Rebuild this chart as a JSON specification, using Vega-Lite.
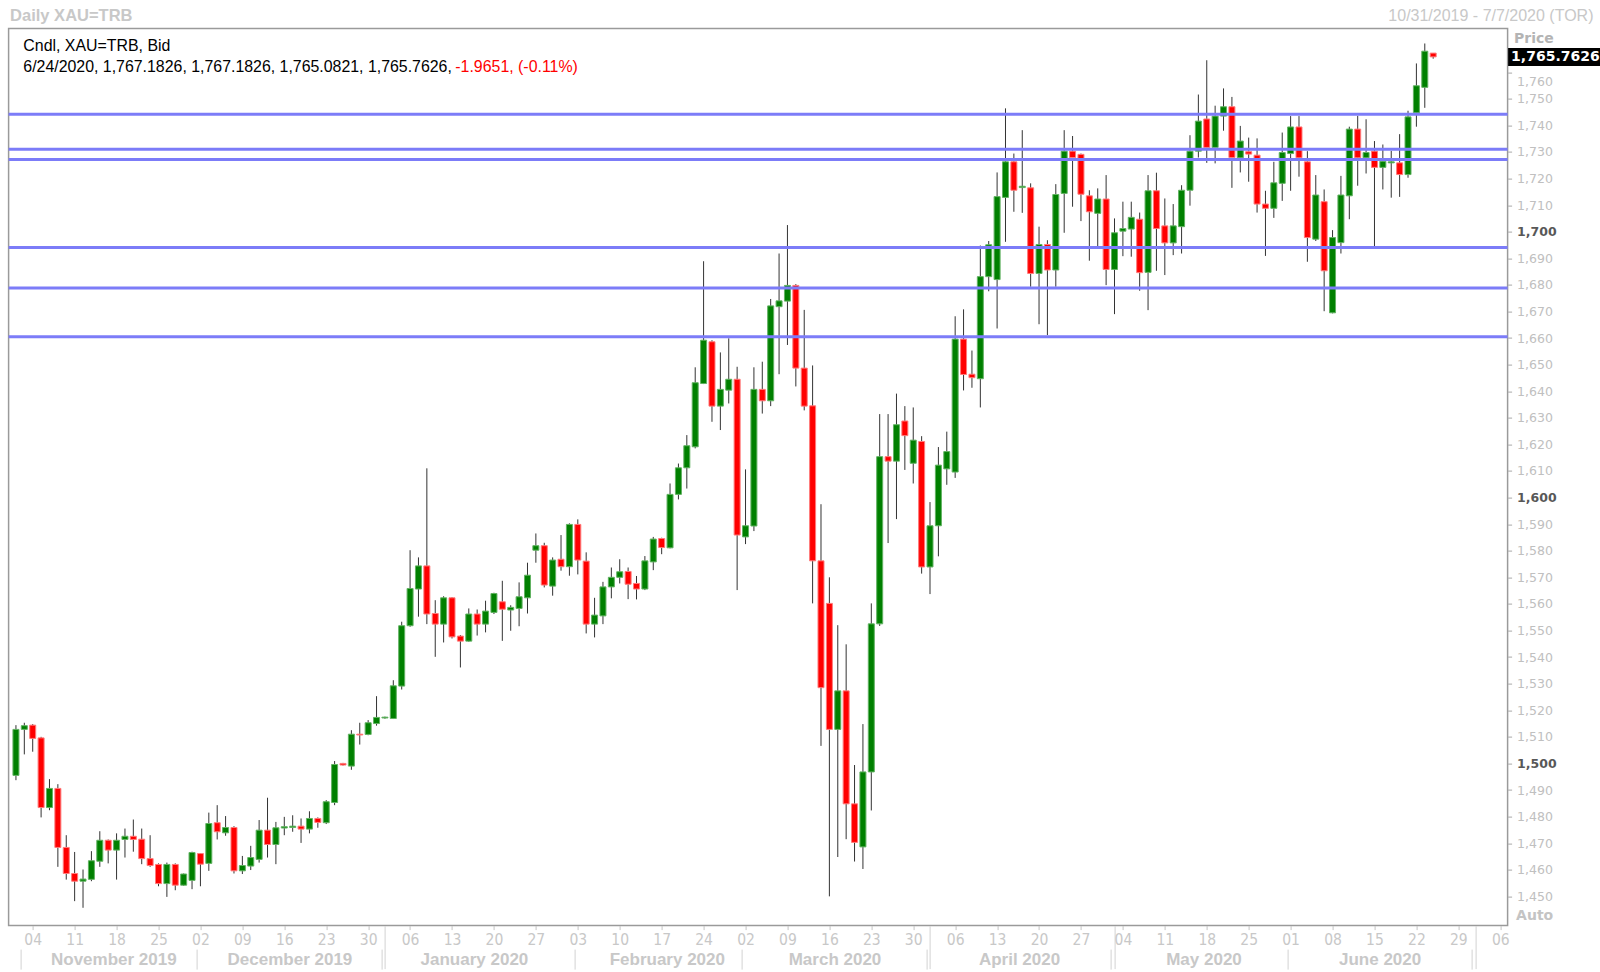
{
  "$schema": "https://vega.github.io/schema/vega-lite/v6.json",
  "width": 1499,
  "height": 897,
  "autosize": {"type": "none"},
  "padding": {"left": 8.6, "top": 28.6, "right": 92.4, "bottom": 46.4},
  "background": "white",
  "config": {"view": {"stroke": "#9a9a9a", "strokeWidth": 1.5}, "axis": {"grid": false}},
  "datasets": {
    "levels": [{"v": 1744.2}, {"v": 1731.0}, {"v": 1727.2}, {"v": 1694.1}, {"v": 1678.8}, {"v": 1660.5}],
    "ohlc": [
      {"d":"2019-10-31","o":1495.5,"h":1514.4,"l":1493.7,"c":1512.8},
      {"d":"2019-11-01","o":1512.8,"h":1515.3,"l":1503.4,"c":1514.2},
      {"d":"2019-11-04","o":1514.4,"h":1514.8,"l":1504.4,"c":1509.4},
      {"d":"2019-11-05","o":1509.6,"h":1510.0,"l":1479.7,"c":1483.4},
      {"d":"2019-11-06","o":1483.4,"h":1494.1,"l":1482.4,"c":1490.6},
      {"d":"2019-11-07","o":1490.6,"h":1492.2,"l":1461.1,"c":1468.4},
      {"d":"2019-11-08","o":1468.4,"h":1473.0,"l":1456.3,"c":1458.6},
      {"d":"2019-11-11","o":1458.6,"h":1466.7,"l":1448.2,"c":1455.7},
      {"d":"2019-11-12","o":1455.7,"h":1460.1,"l":1445.7,"c":1456.5},
      {"d":"2019-11-13","o":1456.4,"h":1467.0,"l":1455.7,"c":1463.4},
      {"d":"2019-11-14","o":1463.2,"h":1474.5,"l":1461.1,"c":1471.1},
      {"d":"2019-11-15","o":1471.1,"h":1471.4,"l":1462.4,"c":1467.4},
      {"d":"2019-11-18","o":1467.4,"h":1473.7,"l":1456.3,"c":1471.1},
      {"d":"2019-11-19","o":1471.4,"h":1475.5,"l":1464.6,"c":1472.6},
      {"d":"2019-11-20","o":1472.6,"h":1478.9,"l":1466.8,"c":1471.4},
      {"d":"2019-11-21","o":1471.5,"h":1475.5,"l":1462.1,"c":1464.2},
      {"d":"2019-11-22","o":1464.2,"h":1473.0,"l":1461.1,"c":1461.6},
      {"d":"2019-11-25","o":1462.0,"h":1462.4,"l":1453.8,"c":1454.8},
      {"d":"2019-11-26","o":1454.8,"h":1462.7,"l":1449.8,"c":1462.0},
      {"d":"2019-11-27","o":1462.0,"h":1462.4,"l":1452.3,"c":1454.2},
      {"d":"2019-11-28","o":1454.2,"h":1458.6,"l":1454.0,"c":1458.4},
      {"d":"2019-11-29","o":1456.0,"h":1466.8,"l":1452.7,"c":1466.5},
      {"d":"2019-12-02","o":1466.1,"h":1466.3,"l":1453.8,"c":1462.1},
      {"d":"2019-12-03","o":1462.4,"h":1481.5,"l":1459.6,"c":1477.4},
      {"d":"2019-12-04","o":1477.7,"h":1484.3,"l":1471.4,"c":1474.3},
      {"d":"2019-12-05","o":1473.9,"h":1480.2,"l":1472.8,"c":1475.9},
      {"d":"2019-12-06","o":1475.9,"h":1476.4,"l":1458.6,"c":1459.6},
      {"d":"2019-12-09","o":1459.6,"h":1465.2,"l":1458.4,"c":1461.6},
      {"d":"2019-12-10","o":1461.4,"h":1469.0,"l":1459.9,"c":1464.6},
      {"d":"2019-12-11","o":1463.9,"h":1478.7,"l":1462.7,"c":1474.9},
      {"d":"2019-12-12","o":1474.9,"h":1487.1,"l":1464.6,"c":1469.5},
      {"d":"2019-12-13","o":1469.5,"h":1478.0,"l":1462.1,"c":1475.8},
      {"d":"2019-12-16","o":1475.7,"h":1479.9,"l":1473.0,"c":1476.2},
      {"d":"2019-12-17","o":1475.9,"h":1480.5,"l":1474.3,"c":1476.4},
      {"d":"2019-12-18","o":1476.4,"h":1479.3,"l":1470.1,"c":1475.3},
      {"d":"2019-12-19","o":1475.3,"h":1482.0,"l":1473.7,"c":1479.3},
      {"d":"2019-12-20","o":1479.3,"h":1479.7,"l":1475.8,"c":1477.8},
      {"d":"2019-12-23","o":1477.7,"h":1486.2,"l":1477.2,"c":1485.6},
      {"d":"2019-12-24","o":1485.3,"h":1500.9,"l":1484.3,"c":1499.6},
      {"d":"2019-12-25","o":1500.0,"h":1500.2,"l":1499.2,"c":1499.4},
      {"d":"2019-12-26","o":1499.0,"h":1512.5,"l":1497.6,"c":1511.0},
      {"d":"2019-12-27","o":1511.0,"h":1515.3,"l":1507.1,"c":1510.7},
      {"d":"2019-12-30","o":1510.9,"h":1516.3,"l":1510.6,"c":1515.3},
      {"d":"2019-12-31","o":1515.0,"h":1525.3,"l":1514.2,"c":1517.3},
      {"d":"2020-01-01","o":1517.1,"h":1517.6,"l":1516.8,"c":1517.4},
      {"d":"2020-01-02","o":1516.9,"h":1531.3,"l":1516.7,"c":1529.2},
      {"d":"2020-01-03","o":1529.1,"h":1553.3,"l":1527.8,"c":1551.8},
      {"d":"2020-01-06","o":1551.8,"h":1580.2,"l":1551.4,"c":1565.8},
      {"d":"2020-01-07","o":1565.6,"h":1577.5,"l":1555.2,"c":1574.3},
      {"d":"2020-01-08","o":1574.3,"h":1611.0,"l":1552.4,"c":1556.2},
      {"d":"2020-01-09","o":1556.4,"h":1561.4,"l":1540.1,"c":1552.4},
      {"d":"2020-01-10","o":1552.4,"h":1562.9,"l":1545.5,"c":1562.3},
      {"d":"2020-01-13","o":1562.3,"h":1562.5,"l":1547.0,"c":1547.6},
      {"d":"2020-01-14","o":1547.9,"h":1548.3,"l":1536.1,"c":1546.0},
      {"d":"2020-01-15","o":1546.0,"h":1558.3,"l":1545.8,"c":1556.2},
      {"d":"2020-01-16","o":1556.2,"h":1557.9,"l":1548.1,"c":1552.4},
      {"d":"2020-01-17","o":1552.4,"h":1561.2,"l":1549.3,"c":1557.3},
      {"d":"2020-01-20","o":1556.8,"h":1564.2,"l":1556.2,"c":1563.9},
      {"d":"2020-01-21","o":1560.8,"h":1568.7,"l":1546.1,"c":1558.0},
      {"d":"2020-01-22","o":1557.7,"h":1559.5,"l":1549.9,"c":1558.7},
      {"d":"2020-01-23","o":1558.3,"h":1568.1,"l":1551.6,"c":1562.7},
      {"d":"2020-01-24","o":1562.3,"h":1575.5,"l":1556.4,"c":1570.8},
      {"d":"2020-01-27","o":1580.2,"h":1586.5,"l":1575.5,"c":1581.9},
      {"d":"2020-01-28","o":1581.9,"h":1583.0,"l":1566.2,"c":1567.1},
      {"d":"2020-01-29","o":1566.7,"h":1577.5,"l":1563.1,"c":1576.5},
      {"d":"2020-01-30","o":1576.8,"h":1585.9,"l":1572.5,"c":1574.0},
      {"d":"2020-01-31","o":1574.0,"h":1590.3,"l":1570.6,"c":1589.9},
      {"d":"2020-02-03","o":1589.9,"h":1591.8,"l":1571.1,"c":1576.5},
      {"d":"2020-02-04","o":1576.1,"h":1579.4,"l":1548.9,"c":1552.4},
      {"d":"2020-02-05","o":1552.4,"h":1562.3,"l":1547.4,"c":1555.8},
      {"d":"2020-02-06","o":1555.5,"h":1568.3,"l":1552.4,"c":1566.4},
      {"d":"2020-02-07","o":1566.4,"h":1573.7,"l":1562.1,"c":1570.0},
      {"d":"2020-02-10","o":1570.0,"h":1576.8,"l":1567.7,"c":1572.1},
      {"d":"2020-02-11","o":1572.2,"h":1573.7,"l":1561.8,"c":1567.4},
      {"d":"2020-02-12","o":1567.7,"h":1570.5,"l":1561.7,"c":1565.6},
      {"d":"2020-02-13","o":1565.6,"h":1578.0,"l":1565.2,"c":1576.2},
      {"d":"2020-02-14","o":1575.8,"h":1585.2,"l":1572.7,"c":1584.4},
      {"d":"2020-02-17","o":1584.6,"h":1584.9,"l":1578.7,"c":1581.2},
      {"d":"2020-02-18","o":1581.1,"h":1605.3,"l":1580.9,"c":1601.2},
      {"d":"2020-02-19","o":1601.2,"h":1612.8,"l":1599.3,"c":1611.2},
      {"d":"2020-02-20","o":1611.2,"h":1623.5,"l":1603.4,"c":1619.5},
      {"d":"2020-02-21","o":1619.1,"h":1649.0,"l":1618.5,"c":1643.2},
      {"d":"2020-02-24","o":1642.9,"h":1688.9,"l":1642.7,"c":1659.2},
      {"d":"2020-02-25","o":1658.6,"h":1659.2,"l":1628.5,"c":1634.4},
      {"d":"2020-02-26","o":1634.4,"h":1654.6,"l":1625.4,"c":1640.7},
      {"d":"2020-02-27","o":1640.4,"h":1659.9,"l":1635.4,"c":1644.5},
      {"d":"2020-02-28","o":1644.5,"h":1649.2,"l":1565.2,"c":1585.9},
      {"d":"2020-03-02","o":1585.2,"h":1610.6,"l":1582.5,"c":1589.4},
      {"d":"2020-03-03","o":1589.3,"h":1649.0,"l":1587.4,"c":1640.7},
      {"d":"2020-03-04","o":1640.7,"h":1651.1,"l":1631.6,"c":1636.4},
      {"d":"2020-03-05","o":1636.4,"h":1674.7,"l":1634.4,"c":1672.1},
      {"d":"2020-03-06","o":1671.8,"h":1691.8,"l":1646.4,"c":1674.0},
      {"d":"2020-03-09","o":1673.9,"h":1702.5,"l":1657.4,"c":1679.8},
      {"d":"2020-03-10","o":1679.8,"h":1680.3,"l":1641.8,"c":1648.7},
      {"d":"2020-03-11","o":1648.7,"h":1670.6,"l":1632.8,"c":1634.4},
      {"d":"2020-03-12","o":1634.5,"h":1649.7,"l":1560.2,"c":1576.2},
      {"d":"2020-03-13","o":1576.2,"h":1597.5,"l":1506.6,"c":1528.5},
      {"d":"2020-03-16","o":1560.2,"h":1570.0,"l":1450.0,"c":1512.8},
      {"d":"2020-03-17","o":1512.8,"h":1552.0,"l":1464.8,"c":1527.3},
      {"d":"2020-03-18","o":1527.3,"h":1544.8,"l":1471.5,"c":1484.8},
      {"d":"2020-03-19","o":1484.8,"h":1499.4,"l":1463.1,"c":1470.3},
      {"d":"2020-03-20","o":1468.6,"h":1514.8,"l":1460.3,"c":1496.8},
      {"d":"2020-03-23","o":1496.8,"h":1560.2,"l":1482.3,"c":1552.5},
      {"d":"2020-03-24","o":1552.5,"h":1631.4,"l":1551.7,"c":1615.4},
      {"d":"2020-03-25","o":1615.4,"h":1631.4,"l":1582.9,"c":1613.7},
      {"d":"2020-03-26","o":1613.7,"h":1639.1,"l":1591.9,"c":1627.4},
      {"d":"2020-03-27","o":1628.8,"h":1634.4,"l":1610.4,"c":1623.3},
      {"d":"2020-03-30","o":1612.9,"h":1633.9,"l":1605.3,"c":1621.6},
      {"d":"2020-03-31","o":1621.1,"h":1623.1,"l":1571.4,"c":1573.9},
      {"d":"2020-04-01","o":1573.9,"h":1598.3,"l":1563.7,"c":1589.4},
      {"d":"2020-04-02","o":1589.4,"h":1619.0,"l":1577.9,"c":1612.2},
      {"d":"2020-04-03","o":1610.8,"h":1624.8,"l":1604.8,"c":1617.3},
      {"d":"2020-04-06","o":1609.6,"h":1668.2,"l":1607.4,"c":1659.6},
      {"d":"2020-04-07","o":1659.6,"h":1670.8,"l":1640.3,"c":1646.3},
      {"d":"2020-04-08","o":1646.4,"h":1655.3,"l":1641.3,"c":1645.1},
      {"d":"2020-04-09","o":1644.7,"h":1694.8,"l":1633.9,"c":1683.1},
      {"d":"2020-04-10","o":1683.1,"h":1696.5,"l":1677.6,"c":1695.1},
      {"d":"2020-04-13","o":1682.0,"h":1722.3,"l":1663.6,"c":1713.2},
      {"d":"2020-04-14","o":1712.9,"h":1746.4,"l":1696.2,"c":1726.3},
      {"d":"2020-04-15","o":1726.3,"h":1729.4,"l":1707.5,"c":1715.6},
      {"d":"2020-04-16","o":1716.6,"h":1738.2,"l":1707.1,"c":1717.1},
      {"d":"2020-04-17","o":1716.5,"h":1718.2,"l":1679.3,"c":1684.3},
      {"d":"2020-04-20","o":1684.3,"h":1701.9,"l":1665.2,"c":1695.2},
      {"d":"2020-04-21","o":1695.2,"h":1696.8,"l":1661.1,"c":1685.6},
      {"d":"2020-04-22","o":1685.6,"h":1717.9,"l":1679.3,"c":1714.0},
      {"d":"2020-04-23","o":1714.4,"h":1738.2,"l":1699.6,"c":1730.3},
      {"d":"2020-04-24","o":1730.3,"h":1736.0,"l":1709.4,"c":1727.9},
      {"d":"2020-04-27","o":1729.1,"h":1729.4,"l":1704.0,"c":1714.1},
      {"d":"2020-04-28","o":1713.5,"h":1715.6,"l":1689.1,"c":1707.5},
      {"d":"2020-04-29","o":1706.9,"h":1716.3,"l":1694.6,"c":1712.3},
      {"d":"2020-04-30","o":1712.3,"h":1721.3,"l":1679.9,"c":1685.8},
      {"d":"2020-05-01","o":1685.8,"h":1705.0,"l":1669.0,"c":1699.6},
      {"d":"2020-05-04","o":1700.2,"h":1711.3,"l":1690.8,"c":1701.2},
      {"d":"2020-05-05","o":1701.0,"h":1711.3,"l":1690.6,"c":1705.4},
      {"d":"2020-05-06","o":1704.7,"h":1707.2,"l":1677.8,"c":1684.6},
      {"d":"2020-05-07","o":1684.7,"h":1721.3,"l":1670.5,"c":1715.4},
      {"d":"2020-05-08","o":1715.4,"h":1722.2,"l":1685.3,"c":1701.2},
      {"d":"2020-05-11","o":1702.2,"h":1712.5,"l":1683.7,"c":1695.8},
      {"d":"2020-05-12","o":1695.8,"h":1710.4,"l":1691.2,"c":1702.2},
      {"d":"2020-05-13","o":1701.9,"h":1717.5,"l":1691.8,"c":1715.6},
      {"d":"2020-05-14","o":1715.6,"h":1736.3,"l":1709.8,"c":1730.3},
      {"d":"2020-05-15","o":1730.3,"h":1751.6,"l":1727.9,"c":1741.6},
      {"d":"2020-05-18","o":1742.4,"h":1764.5,"l":1725.9,"c":1731.7},
      {"d":"2020-05-19","o":1731.7,"h":1747.4,"l":1725.7,"c":1743.5},
      {"d":"2020-05-20","o":1743.5,"h":1753.9,"l":1738.0,"c":1747.0},
      {"d":"2020-05-21","o":1747.0,"h":1750.7,"l":1716.5,"c":1727.9},
      {"d":"2020-05-22","o":1727.8,"h":1739.8,"l":1722.3,"c":1734.1},
      {"d":"2020-05-25","o":1730.1,"h":1735.4,"l":1718.8,"c":1729.2},
      {"d":"2020-05-26","o":1728.8,"h":1735.1,"l":1707.2,"c":1710.4},
      {"d":"2020-05-27","o":1710.4,"h":1715.4,"l":1690.9,"c":1708.8},
      {"d":"2020-05-28","o":1708.8,"h":1726.3,"l":1705.2,"c":1718.4},
      {"d":"2020-05-29","o":1718.2,"h":1737.3,"l":1711.6,"c":1729.8},
      {"d":"2020-06-01","o":1729.4,"h":1743.5,"l":1715.4,"c":1739.4},
      {"d":"2020-06-02","o":1739.4,"h":1743.5,"l":1720.7,"c":1727.8},
      {"d":"2020-06-03","o":1726.3,"h":1730.3,"l":1688.7,"c":1697.8},
      {"d":"2020-06-04","o":1697.2,"h":1721.3,"l":1696.5,"c":1713.8},
      {"d":"2020-06-05","o":1711.3,"h":1715.9,"l":1670.1,"c":1685.3},
      {"d":"2020-06-08","o":1669.5,"h":1700.6,"l":1669.3,"c":1697.8},
      {"d":"2020-06-09","o":1695.9,"h":1721.0,"l":1691.8,"c":1713.8},
      {"d":"2020-06-10","o":1713.5,"h":1739.5,"l":1704.7,"c":1738.6},
      {"d":"2020-06-11","o":1738.6,"h":1743.6,"l":1717.3,"c":1727.8},
      {"d":"2020-06-12","o":1727.8,"h":1742.3,"l":1721.9,"c":1729.8},
      {"d":"2020-06-15","o":1730.3,"h":1734.1,"l":1694.6,"c":1724.2},
      {"d":"2020-06-16","o":1724.2,"h":1732.8,"l":1715.9,"c":1726.5},
      {"d":"2020-06-17","o":1725.9,"h":1730.4,"l":1712.8,"c":1726.3},
      {"d":"2020-06-18","o":1725.9,"h":1736.7,"l":1713.1,"c":1721.5},
      {"d":"2020-06-19","o":1721.5,"h":1745.5,"l":1720.3,"c":1743.2},
      {"d":"2020-06-22","o":1744.7,"h":1763.3,"l":1739.5,"c":1754.9},
      {"d":"2020-06-23","o":1754.3,"h":1770.8,"l":1746.6,"c":1767.9},
      {"d":"2020-06-24","o":1767.1826,"h":1767.1826,"l":1765.0821,"c":1765.7626}
    ]
  },
  "resolve": {"axis": {"x": "independent", "y": "independent"}},
  "layer": [
    {
      "data": {"name": "ohlc"},
      "mark": {"type": "rule", "color": "#333333", "strokeWidth": 1},
      "encoding": {
        "x": {
          "field": "d", "type": "ordinal",
          "scale": {"type": "band", "paddingInner": 0, "paddingOuter": 0.375, "domain": [
            "2019-10-31","2019-11-01","2019-11-04","2019-11-05","2019-11-06","2019-11-07","2019-11-08","2019-11-11","2019-11-12","2019-11-13","2019-11-14","2019-11-15","2019-11-18","2019-11-19","2019-11-20","2019-11-21","2019-11-22","2019-11-25","2019-11-26","2019-11-27","2019-11-28","2019-11-29",
            "2019-12-02","2019-12-03","2019-12-04","2019-12-05","2019-12-06","2019-12-09","2019-12-10","2019-12-11","2019-12-12","2019-12-13","2019-12-16","2019-12-17","2019-12-18","2019-12-19","2019-12-20","2019-12-23","2019-12-24","2019-12-25","2019-12-26","2019-12-27","2019-12-30","2019-12-31",
            "2020-01-01","2020-01-02","2020-01-03","2020-01-06","2020-01-07","2020-01-08","2020-01-09","2020-01-10","2020-01-13","2020-01-14","2020-01-15","2020-01-16","2020-01-17","2020-01-20","2020-01-21","2020-01-22","2020-01-23","2020-01-24","2020-01-27","2020-01-28","2020-01-29","2020-01-30","2020-01-31",
            "2020-02-03","2020-02-04","2020-02-05","2020-02-06","2020-02-07","2020-02-10","2020-02-11","2020-02-12","2020-02-13","2020-02-14","2020-02-17","2020-02-18","2020-02-19","2020-02-20","2020-02-21","2020-02-24","2020-02-25","2020-02-26","2020-02-27","2020-02-28",
            "2020-03-02","2020-03-03","2020-03-04","2020-03-05","2020-03-06","2020-03-09","2020-03-10","2020-03-11","2020-03-12","2020-03-13","2020-03-16","2020-03-17","2020-03-18","2020-03-19","2020-03-20","2020-03-23","2020-03-24","2020-03-25","2020-03-26","2020-03-27","2020-03-30","2020-03-31",
            "2020-04-01","2020-04-02","2020-04-03","2020-04-06","2020-04-07","2020-04-08","2020-04-09","2020-04-10","2020-04-13","2020-04-14","2020-04-15","2020-04-16","2020-04-17","2020-04-20","2020-04-21","2020-04-22","2020-04-23","2020-04-24","2020-04-27","2020-04-28","2020-04-29","2020-04-30",
            "2020-05-01","2020-05-04","2020-05-05","2020-05-06","2020-05-07","2020-05-08","2020-05-11","2020-05-12","2020-05-13","2020-05-14","2020-05-15","2020-05-18","2020-05-19","2020-05-20","2020-05-21","2020-05-22","2020-05-25","2020-05-26","2020-05-27","2020-05-28","2020-05-29",
            "2020-06-01","2020-06-02","2020-06-03","2020-06-04","2020-06-05","2020-06-08","2020-06-09","2020-06-10","2020-06-11","2020-06-12","2020-06-15","2020-06-16","2020-06-17","2020-06-18","2020-06-19","2020-06-22","2020-06-23","2020-06-24","2020-06-25","2020-06-26","2020-06-29","2020-06-30",
            "2020-07-01","2020-07-02","2020-07-03","2020-07-06"
          ]},
          "axis": {
            "orient": "bottom", "title": null, "domain": false,
            "values": ["2019-11-04","2019-11-11","2019-11-18","2019-11-25","2019-12-02","2019-12-09","2019-12-16","2019-12-23","2019-12-30","2020-01-01","2020-01-06","2020-01-13","2020-01-20","2020-01-27","2020-02-03","2020-02-10","2020-02-17","2020-02-24","2020-03-02","2020-03-09","2020-03-16","2020-03-23","2020-03-30","2020-04-01","2020-04-06","2020-04-13","2020-04-20","2020-04-27","2020-05-01","2020-05-04","2020-05-11","2020-05-18","2020-05-25","2020-06-01","2020-06-08","2020-06-15","2020-06-22","2020-06-29","2020-07-01","2020-07-06"],
            "labelExpr": "indexof(['2020-01-01','2020-04-01','2020-05-01','2020-07-01'], datum.value) >= 0 ? '' : substring(datum.value, 8, 10)",
            "labelAngle": 0, "labelAlign": "center", "labelBaseline": "middle",
            "labelFont": "Liberation Sans Narrow, DejaVu Sans Condensed, sans-serif",
            "labelFontSize": 15.5, "labelColor": "#c8c8c8", "labelPadding": 9.5,
            "tickSize": {"condition": {"test": "indexof(['2020-01-01','2020-04-01','2020-05-01','2020-07-01'], datum.value) >= 0", "value": 43}, "value": 4},
            "tickColor": {"condition": {"test": "indexof(['2020-01-01','2020-04-01','2020-05-01','2020-07-01'], datum.value) >= 0", "value": "#d2d2d2"}, "value": "#c4c4c4"},
            "tickOffset": {"condition": {"test": "indexof(['2020-01-01','2020-04-01','2020-05-01','2020-07-01'], datum.value) >= 0", "value": -2.9}, "value": 0},
            "labelOverlap": false
          }
        },
        "y": {
          "field": "l", "type": "quantitative",
          "scale": {"domain": [1439, 1776.4], "nice": false, "zero": false},
          "axis": {
            "orient": "right", "domain": false,
            "values": [1450,1460,1470,1480,1490,1500,1510,1520,1530,1540,1550,1560,1570,1580,1590,1600,1610,1620,1630,1640,1650,1660,1670,1680,1690,1700,1710,1720,1730,1740,1750,1760],
            "format": ",d",
            "tickSize": 4, "tickColor": "#a8a8a8", "labelPadding": 5,
            "labelFont": "DejaVu Sans", "labelFontSize": 12.5,
            "labelColor": {"condition": {"test": "datum.value % 100 === 0", "value": "#585858"}, "value": "#c0c0c0"},
            "labelFontWeight": {"condition": {"test": "datum.value % 100 === 0", "value": "bold"}, "value": "normal"},
            "labelOffset": {"condition": {"test": "datum.value === 1760", "value": 9}, "value": 0},
            "labelOverlap": false,
            "title": "Price", "titleAngle": 0, "titleAlign": "left", "titleBaseline": "middle",
            "titleX": 6, "titleY": 9.5, "titleColor": "#b4b4b4", "titleFont": "DejaVu Sans",
            "titleFontSize": 14, "titleFontWeight": "bold"
          }
        },
        "y2": {"field": "h"}
      }
    },
    {
      "data": {"name": "ohlc"},
      "mark": {"type": "bar", "width": 6, "strokeWidth": 1},
      "encoding": {
        "x": {
          "field": "d", "type": "ordinal",
          "axis": {
            "orient": "bottom", "title": null, "domain": false, "offset": 23.5, "bandPosition": 0.15,
            "values": ["2019-11-01","2019-12-02","2020-01-01","2020-02-03","2020-03-02","2020-04-01","2020-05-01","2020-06-01","2020-07-01"],
            "labelExpr": "datum.value == '2020-07-01' ? '' : utcFormat(toDate(datum.value), '%B %Y')",
            "labelAngle": 0, "labelAlign": "center", "labelBaseline": "middle", "labelOffset": 89.5,
            "labelPadding": -10, "labelFont": "Liberation Sans", "labelFontSize": 17,
            "labelFontWeight": "bold", "labelColor": "#c8c8c8", "labelOverlap": false, "labelBound": false,
            "tickSize": 20, "tickColor": "#d2d2d2", "tickWidth": 1
          }
        },
        "y": {
          "field": "o", "type": "quantitative",
          "axis": {
            "orient": "right", "domain": false, "values": [1765.7626],
            "labelExpr": "'1,765.7626'",
            "tickSize": 95, "tickWidth": 18, "tickColor": "#000000", "tickCap": "butt",
            "labelPadding": -92, "labelColor": "#ffffff", "labelFont": "DejaVu Sans",
            "labelFontSize": 14, "labelFontWeight": "bold", "labelOverlap": false,
            "title": "Auto", "titleAngle": 0, "titleAlign": "left", "titleBaseline": "middle",
            "titleX": 8, "titleY": 886.5, "titleColor": "#c4c4c4", "titleFont": "DejaVu Sans",
            "titleFontSize": 14, "titleFontWeight": "bold"
          }
        },
        "y2": {"field": "c"},
        "fill": {"condition": {"test": "datum.c >= datum.o", "value": "#008000"}, "value": "#ff0000"},
        "stroke": {"condition": {"test": "datum.c >= datum.o", "value": "#62b262"}, "value": "#ff7a7a"}
      }
    },
    {
      "data": {"name": "levels"},
      "mark": {"type": "rule", "color": "#7c7cf8", "strokeWidth": 3},
      "encoding": {"y": {"field": "v", "type": "quantitative", "axis": null}}
    },
    {
      "data": {"values": [{}]},
      "mark": {"type": "text", "align": "left", "baseline": "middle", "font": "Liberation Sans", "fontSize": 15.9, "color": "#000000", "dx": -1},
      "encoding": {
        "x": {"datum": "2019-11-01", "type": "ordinal",
          "axis": {"orient": "top", "labels": false, "ticks": false, "domain": false,
            "title": "Daily XAU=TRB", "titleX": 1, "titleY": -13.5, "titleAlign": "left", "titleBaseline": "middle",
            "titleAngle": 0, "titleColor": "#c8c8c8", "titleFont": "Liberation Sans", "titleFontSize": 16.5, "titleFontWeight": "bold"}},
        "y": {"datum": 1769.8, "type": "quantitative", "axis": null},
        "text": {"value": "Cndl, XAU=TRB, Bid"}
      }
    },
    {
      "data": {"values": [{}]},
      "mark": {"type": "text", "align": "left", "baseline": "middle", "font": "Liberation Sans", "fontSize": 15.9, "color": "#000000", "dx": -1},
      "encoding": {
        "x": {"datum": "2019-11-01", "type": "ordinal",
          "axis": {"orient": "top", "labels": false, "ticks": false, "domain": false,
            "title": "10/31/2019 - 7/7/2020 (TOR)", "titleX": 1584.4, "titleY": -13.5, "titleAlign": "right", "titleBaseline": "middle",
            "titleAngle": 0, "titleColor": "#c8c8c8", "titleFont": "Liberation Sans", "titleFontSize": 16, "titleFontWeight": "normal"}},
        "y": {"datum": 1761.8, "type": "quantitative", "axis": null},
        "text": {"value": "6/24/2020, 1,767.1826, 1,767.1826, 1,765.0821, 1,765.7626,"}
      }
    },
    {
      "data": {"values": [{}]},
      "mark": {"type": "text", "align": "left", "baseline": "middle", "font": "Liberation Sans", "fontSize": 15.9, "color": "#ff0000", "dx": 431},
      "encoding": {
        "x": {"datum": "2019-11-01", "type": "ordinal", "axis": null},
        "y": {"datum": 1761.8, "type": "quantitative", "axis": null},
        "text": {"value": "-1.9651, (-0.11%)"}
      }
    }
  ]
}
